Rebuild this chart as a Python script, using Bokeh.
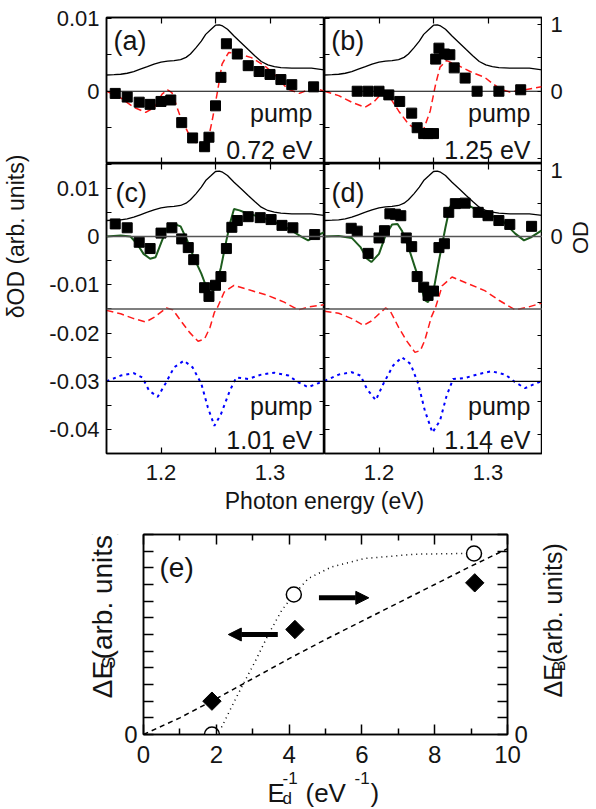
import math
from bokeh.plotting import figure
from bokeh.layouts import row, column
from bokeh.models import (Range1d, LinearAxis, FixedTicker, CustomJSTickFormatter,
                          CustomLabelingPolicy, Span, Label, Arrow, NormalHead)
from bokeh.embed import file_html
from bokeh.resources import INLINE
from bokeh.core.properties import value

FONT = "Liberation Sans"
TXT = "#141414"
RED = "#ff1a1a"
GREEN = "#1d5c1d"
BLUE = "#0000ff"
SHIFT = 0.3   # em correction for text baseline placement

# ---------------- data: absorption spectrum (OD, right axis) ----------------
od_energy = [1.150, 1.157, 1.163, 1.169, 1.175, 1.181, 1.1875, 1.1936, 1.200, 1.206, 1.212,
             1.218, 1.223, 1.227, 1.232, 1.237, 1.241, 1.246, 1.250, 1.2535, 1.2565, 1.261,
             1.267, 1.2735, 1.280, 1.286, 1.292, 1.298, 1.304, 1.310, 1.320, 1.329, 1.338, 1.350]
od_value = [0.242, 0.247, 0.253, 0.268, 0.293, 0.329, 0.368, 0.405, 0.435, 0.450, 0.455,
            0.470, 0.505, 0.556, 0.646, 0.747, 0.848, 0.924, 0.985, 0.989, 0.974, 0.924,
            0.823, 0.722, 0.621, 0.530, 0.444, 0.394, 0.368, 0.353, 0.344, 0.344, 0.344, 0.318]

# ---------------- panel (a): pump 0.72 eV ----------------
a_exp_energy = [1.158, 1.169, 1.180, 1.190, 1.200, 1.209, 1.219, 1.229, 1.240, 1.244, 1.250,
                1.255, 1.260, 1.270, 1.280, 1.290, 1.300, 1.310, 1.320, 1.340]
a_exp_dod = [-0.0003, -0.0008, -0.0015, -0.0018, -0.0014, -0.0012, -0.0043, -0.0064, -0.0076,
             -0.0063, -0.0020, 0.0019, 0.0065, 0.0051, 0.0035, 0.0027, 0.0023, 0.0016, 0.0009, 0.0006]
a_fit_energy = [1.150, 1.163, 1.175, 1.186, 1.194, 1.201, 1.206, 1.210, 1.218, 1.227, 1.237,
                1.243, 1.247, 1.252, 1.256, 1.262, 1.270, 1.283, 1.295, 1.307, 1.316, 1.327,
                1.335, 1.344, 1.350]
a_fit_dod = [0.0, -0.0009, -0.0022, -0.0029, -0.0022, -0.0004, 0.0002, -0.0002, -0.0036, -0.0063,
             -0.0077, -0.0068, -0.0040, 0.0001, 0.0037, 0.0053, 0.0052, 0.0046, 0.0035, 0.0019,
             0.0003, -0.0003, 0.0002, 0.0003, 0.0]

# ---------------- panel (b): pump 1.25 eV ----------------
b_exp_energy = [1.180, 1.190, 1.200, 1.209, 1.219, 1.230, 1.235, 1.241, 1.245, 1.250, 1.252,
                1.255, 1.260, 1.265, 1.269, 1.279, 1.290, 1.310, 1.330]
b_exp_dod = [0.0, 0.0, 0.0, -0.0005, -0.0014, -0.0030, -0.0050, -0.0058, -0.0058, -0.0058, 0.0044,
             0.0059, 0.0051, 0.0050, 0.0032, 0.0018, 0.0, 0.0, 0.0002]
b_fit_energy = [1.150, 1.163, 1.175, 1.187, 1.195, 1.203, 1.209, 1.218, 1.227, 1.236, 1.241,
                1.247, 1.252, 1.256, 1.262, 1.273, 1.285, 1.297, 1.303, 1.311, 1.320, 1.334, 1.349]
b_fit_dod = [0.0, -0.0006, -0.0015, -0.0022, -0.0015, -0.0002, -0.0006, -0.0027, -0.0045, -0.0054,
             -0.0052, -0.0027, 0.0010, 0.0033, 0.0042, 0.0035, 0.0026, 0.0019, 0.0012, 0.0003,
             -0.0001, 0.0002, 0.0006]

# ---------------- panel (c): pump 1.01 eV ----------------
c_exp_energy = [1.158, 1.169, 1.180, 1.190, 1.200, 1.210, 1.219, 1.225, 1.230, 1.240, 1.244,
                1.250, 1.255, 1.260, 1.265, 1.270, 1.280, 1.291, 1.301, 1.311, 1.321, 1.341]
c_exp_dod = [0.0026, 0.0018, -0.0012, -0.0025, 0.0007, 0.0018, -0.0005, -0.0023, -0.0048, -0.0106,
             -0.0124, -0.0101, -0.0083, -0.0025, 0.0019, 0.0033, 0.0041, 0.0039, 0.0035, 0.0023,
             0.0018, 0.0004]
c_sum_energy = [1.150, 1.163, 1.172, 1.178, 1.184, 1.190, 1.195, 1.201, 1.206, 1.212, 1.218,
                1.224, 1.230, 1.237, 1.241, 1.246, 1.250, 1.255, 1.260, 1.264, 1.267, 1.272,
                1.280, 1.292, 1.304, 1.317, 1.329, 1.335, 1.343, 1.350]
c_sum_dod = [0.0, 0.0002, 0.0, -0.0015, -0.0036, -0.0046, -0.0043, -0.0008, 0.0019, 0.0026, 0.0021,
             -0.0008, -0.0043, -0.0077, -0.0101, -0.0119, -0.0105, -0.0064, -0.0008, 0.0033,
             0.0057, 0.0054, 0.0047, 0.0040, 0.0030, 0.0016, -0.0001, -0.0008, 0.0002, 0.0009]
c_shift_energy = [1.150, 1.163, 1.175, 1.186, 1.194, 1.205, 1.211, 1.218, 1.226, 1.234, 1.240,
                  1.245, 1.249, 1.252, 1.258, 1.267, 1.283, 1.298, 1.313, 1.326, 1.335, 1.350]
c_shift_dod = [-0.0003, -0.0010, -0.0020, -0.0027, -0.0017, 0.0002, -0.0002, -0.0024, -0.0048,
               -0.0067, -0.0062, -0.0038, -0.0007, 0.0004, 0.0035, 0.0049, 0.0038, 0.0028,
               0.0014, -0.0002, 0.0004, 0.0009]
c_broad_energy = [1.150, 1.163, 1.175, 1.183, 1.189, 1.197, 1.204, 1.212, 1.221, 1.229, 1.237,
                  1.243, 1.249, 1.255, 1.263, 1.269, 1.280, 1.292, 1.304, 1.317, 1.326, 1.335,
                  1.344, 1.350]
c_broad_dod = [0.0, 0.0012, 0.0017, 0.0008, -0.0019, -0.0032, -0.0005, 0.0029, 0.0043, 0.0029,
               -0.0005, -0.0054, -0.0092, -0.0068, -0.0020, 0.0008, 0.0005, 0.0014, 0.0018,
               0.0012, -0.0002, -0.0012, -0.0004, 0.0001]

# ---------------- panel (d): pump 1.14 eV ----------------
d_exp_energy = [1.1745, 1.180, 1.190, 1.200, 1.205, 1.210, 1.215, 1.220, 1.225, 1.230, 1.235,
                1.241, 1.245, 1.250, 1.255, 1.260, 1.264, 1.270, 1.279, 1.291, 1.300, 1.310,
                1.320, 1.340]
d_exp_dod = [0.0017, 0.0011, -0.0035, -0.0003, 0.0012, 0.0047, 0.0046, 0.0043, -0.0003, -0.0021,
             -0.0083, -0.0105, -0.0122, -0.0113, -0.0023, -0.0015, 0.0050, 0.0068, 0.0069,
             0.0050, 0.0043, 0.0033, 0.0025, 0.0021]
d_sum_energy = [1.150, 1.163, 1.175, 1.183, 1.189, 1.193, 1.200, 1.206, 1.212, 1.217, 1.221,
                1.227, 1.233, 1.238, 1.242, 1.245, 1.250, 1.255, 1.261, 1.265, 1.270, 1.279,
                1.288, 1.300, 1.313, 1.325, 1.333, 1.340, 1.349]
d_sum_dod = [0.0, 0.0001, -0.0003, -0.0022, -0.0046, -0.0053, -0.0036, 0.0002, 0.0025, 0.0026,
             0.0012, -0.0022, -0.0064, -0.0098, -0.0132, -0.0136, -0.0112, -0.0050, 0.0019,
             0.0061, 0.0076, 0.0068, 0.0057, 0.0047, 0.0033, 0.0006, -0.0008, -0.0001, 0.0012]
d_shift_energy = [1.150, 1.163, 1.175, 1.186, 1.193, 1.206, 1.210, 1.218, 1.225, 1.233, 1.238,
                  1.242, 1.248, 1.252, 1.258, 1.267, 1.282, 1.297, 1.310, 1.325, 1.337, 1.349]
d_shift_dod = [-0.0005, -0.0009, -0.0020, -0.0034, -0.0025, 0.0002, -0.0003, -0.0038, -0.0065,
               -0.0090, -0.0086, -0.0065, -0.0017, 0.0004, 0.0048, 0.0066, 0.0052, 0.0038,
               0.0018, -0.0002, 0.0004, 0.0012]
d_broad_energy = [1.150, 1.163, 1.175, 1.183, 1.189, 1.197, 1.204, 1.213, 1.221, 1.229, 1.236,
                  1.242, 1.249, 1.256, 1.262, 1.268, 1.279, 1.291, 1.303, 1.316, 1.325, 1.334,
                  1.343, 1.349]
d_broad_dod = [0.0001, 0.0014, 0.0019, 0.0012, -0.0016, -0.0039, -0.0005, 0.0033, 0.0050, 0.0036,
               -0.0005, -0.0060, -0.0106, -0.0081, -0.0030, 0.0005, 0.0007, 0.0015, 0.0021,
               0.0014, -0.0002, -0.0014, -0.0005, 0.0]

SHIFT_OFFSET = -0.015   # baseline of red dashed component in (c),(d)
BROAD_OFFSET = -0.030   # baseline of blue dotted component in (c),(d)

pump_labels = ["0.72 eV", "1.25 eV", "1.01 eV", "1.14 eV"]
panel_tags = ["(a)", "(b)", "(c)", "(d)"]

# ---------------- panel (e) ----------------
e_inv_ed_s = [1.88, 4.16, 9.10]
e_delta_es = [2.0, 6.3, 9.1]
e_inv_ed_b = [1.88, 4.13, 9.08]
e_delta_eb = [0.0, 8.4, 10.86]
e_dash_x = [0, 1, 2, 3, 4, 5, 6, 7, 8, 9, 10]
e_dash_y = [0.0, 1.0, 2.15, 3.35, 4.55, 5.7, 6.8, 7.9, 9.0, 10.1, 11.15]
e_dot_x = [1.95, 2.15, 2.42, 2.70, 3.06, 3.43, 3.80, 4.13, 4.53, 5.17, 6.08, 7.46, 8.83, 9.08]
e_dot_y = [0.0, 0.46, 1.66, 2.86, 4.35, 6.0, 7.46, 8.4, 9.36, 10.06, 10.56, 10.82, 10.86, 10.86]

E_LIM = (1.15, 1.35)
TOP_DOD = (-0.0099, 0.0101)
TOP_OD = (-1.079, 1.10)
BOT_DOD = (-0.04493, 0.01511)
BOT_OD = (-3.288, 1.106)

# frame geometry (page px)
TOP_FRAME = (17, 146)
BOT_FRAME = (163, 290)

FMT = CustomJSTickFormatter(code="""
if (Math.abs(tick) < 1e-12) { return "0"; }
return String(Number(tick.toPrecision(6)));
""")


def fmt_tick(v):
    return "0" if abs(v) < 1e-12 else f"{v:g}"


def style_axis(ax, ticks, minor, tick_in, minor_in, show, size, standoff, lw=1.2):
    ax.ticker = FixedTicker(ticks=ticks, minor_ticks=minor)
    ax.major_tick_in = tick_in
    ax.major_tick_out = 0
    ax.minor_tick_in = minor_in
    ax.minor_tick_out = 0
    ax.axis_line_color = "black"
    ax.axis_line_width = 1.5
    ax.major_tick_line_color = "black"
    ax.minor_tick_line_color = "black"
    ax.major_tick_line_width = lw
    ax.minor_tick_line_width = lw
    ax.axis_label = None
    ax.formatter = FMT
    if show:
        ax.major_label_text_font = FONT
        ax.major_label_text_font_size = f"{size}px"
        ax.major_label_text_color = TXT
        ax.major_label_standoff = standoff
    else:
        ax.major_label_text_font_size = "0px"
        ax.major_label_standoff = 0
        ax.major_label_policy = CustomLabelingPolicy(code="return []")


def make_panel(dod_lim, od_lim, frame_h, bl, br, bt, bb, lab_left, lab_bottom,
               dod_major, dod_minor, od_major, od_minor):
    p = figure(frame_width=218, frame_height=frame_h,
               x_range=Range1d(*E_LIM), y_range=Range1d(*dod_lim),
               output_backend="svg", toolbar_location=None, title=None,
               min_border_left=bl, min_border_right=br, min_border_top=bt, min_border_bottom=bb,
               background_fill_color="white", border_fill_color="white",
               outline_line_color="black", outline_line_width=1.5)
    p.extra_y_ranges = {"od": Range1d(*od_lim)}
    p.grid.visible = False
    style_axis(p.xaxis[0], [1.2, 1.3], [1.25], 6, 6, lab_bottom, 22, 11)
    top = LinearAxis()
    style_axis(top, [1.2, 1.3], [1.25], 6, 6, False, 22, 0)
    p.add_layout(top, "above")
    style_axis(p.yaxis[0], dod_major, dod_minor, 5, 5, lab_left, 22, 7)
    right = LinearAxis(y_range_name="od")
    style_axis(right, od_major, od_minor, 5, 5, False, 22, 0)
    p.add_layout(right, "right")
    p.line(od_energy, od_value, y_range_name="od", line_color="black", line_width=1.3)
    return p


def page_to_data(py, lim, frame_top, frame_h):
    """convert a page pixel row inside a frame to a data value of that frame"""
    lo, hi = lim
    return lo + (frame_top + frame_h - py) * (hi - lo) / frame_h


def data_to_page(v, lim, frame_top, frame_h):
    lo, hi = lim
    return frame_top + (hi - v) * frame_h / (hi - lo)


def add_texts(p, lim, frame_top, frame_h, tag, tag_x, tag_py, pump_x, pump_py1, pump_py2,
              energy_text):
    def lab(x, py, text, size, align):
        y = page_to_data(py - SHIFT * size, lim, frame_top, frame_h)
        p.add_layout(Label(x=x, y=y, text=text, text_font=FONT, text_font_size=f"{size}px",
                           text_color=TXT, text_align=align, text_baseline="alphabetic"))
    lab(tag_x, tag_py, tag, 27, "left")
    lab(pump_x, pump_py1, "pump", 25, "right")
    lab(pump_x, pump_py2, energy_text, 25, "right")


top_dod_major = [0.01, 0.0]
top_dod_minor = [0.005, -0.005]
top_od_major = [1.0, 0.0]
top_od_minor = [0.5, -0.5, -1.0]
bot_dod_major = [0.01, 0.0, -0.01, -0.02, -0.03, -0.04]
bot_dod_minor = [0.015, 0.005, -0.005, -0.015, -0.025, -0.035, -0.045]
bot_od_major = [1.0, 0.0]
bot_od_minor = [0.5, -0.5, -1.0, -1.5, -2.0, -2.5, -3.0]

pa = make_panel(TOP_DOD, TOP_OD, 146, 62, 0, 17, 0, True, False,
                top_dod_major, top_dod_minor, top_od_major, top_od_minor)
pb = make_panel(TOP_DOD, TOP_OD, 146, 0, 0, 17, 0, False, False,
                top_dod_major, top_dod_minor, top_od_major, top_od_minor)
pc = make_panel(BOT_DOD, BOT_OD, 290, 62, 0, 0, 36, True, True,
                bot_dod_major, bot_dod_minor, bot_od_major, bot_od_minor)
pd = make_panel(BOT_DOD, BOT_OD, 290, 0, 0, 0, 36, False, True,
                bot_dod_major, bot_dod_minor, bot_od_major, bot_od_minor)

for p in (pa, pb):
    p.add_layout(Span(location=0.0, dimension="width", line_color="black", line_width=1.2))

for p in (pc, pd):
    p.add_layout(Span(location=0.0, dimension="width", line_color="#555555", line_width=1.5))
    p.add_layout(Span(location=SHIFT_OFFSET, dimension="width", line_color="#555555",
                      line_width=1.5))
    p.add_layout(Span(location=BROAD_OFFSET, dimension="width", line_color="black",
                      line_width=1.2))

pa.line(a_fit_energy, a_fit_dod, line_color=RED, line_width=1.5, line_dash="7 4")
pa.scatter(a_exp_energy, a_exp_dod, marker="square", size=10, color="black")
pb.line(b_fit_energy, b_fit_dod, line_color=RED, line_width=1.5, line_dash="7 4")
pb.scatter(b_exp_energy, b_exp_dod, marker="square", size=10, color="black")

for p, se, sd, be, bd, sue, sud, ee, ed in (
        (pc, c_shift_energy, c_shift_dod, c_broad_energy, c_broad_dod, c_sum_energy, c_sum_dod,
         c_exp_energy, c_exp_dod),
        (pd, d_shift_energy, d_shift_dod, d_broad_energy, d_broad_dod, d_sum_energy, d_sum_dod,
         d_exp_energy, d_exp_dod)):
    p.line(se, [v + SHIFT_OFFSET for v in sd], line_color=RED, line_width=1.5, line_dash="7 4")
    p.line(be, [v + BROAD_OFFSET for v in bd], line_color=BLUE, line_width=2, line_dash="3 4")
    p.line(sue, sud, line_color=GREEN, line_width=2)
    p.scatter(ee, ed, marker="square", size=10, color="black")

add_texts(pa, TOP_DOD, *TOP_FRAME, panel_tags[0], 1.1564, 49, 1.339, 120, 156.7, pump_labels[0])
add_texts(pb, TOP_DOD, *TOP_FRAME, panel_tags[1], 1.1561, 49, 1.339, 120, 156.7, pump_labels[1])
add_texts(pc, BOT_DOD, *BOT_FRAME, panel_tags[2], 1.1583, 201, 1.339, 413, 446.7, pump_labels[2])
add_texts(pd, BOT_DOD, *BOT_FRAME, panel_tags[3], 1.1564, 201, 1.339, 413, 446.7, pump_labels[3])

# ---------------- panel (e) ----------------
E_X_LIM = (0, 10)
E_Y_LIM = (0, 12)
pe = figure(frame_width=364, frame_height=200, x_range=Range1d(*E_X_LIM),
            y_range=Range1d(*E_Y_LIM),
            output_backend="svg", toolbar_location=None, title=None,
            min_border_left=21, min_border_right=26, min_border_top=19, min_border_bottom=35,
            background_fill_color="white", border_fill_color="white",
            outline_line_color="black", outline_line_width=1.5)
pe.grid.visible = False
style_axis(pe.xaxis[0], [0, 2, 4, 6, 8, 10], [1, 3, 5, 7, 9], 10, 6, True, 24, 11, 1.5)
e_top = LinearAxis()
style_axis(e_top, [0, 2, 4, 6, 8, 10], [1, 3, 5, 7, 9], 10, 6, False, 24, 0, 1.5)
pe.add_layout(e_top, "above")
style_axis(pe.yaxis[0], [0], list(range(1, 13)), 10, 10, True, 24, 6, 1.5)
e_right = LinearAxis()
style_axis(e_right, [0], list(range(1, 13)), 10, 10, True, 24, 7, 1.5)
pe.add_layout(e_right, "right")

pe.line(e_dash_x, e_dash_y, line_color="black", line_width=1.5, line_dash="5 4")
pe.line(e_dot_x, e_dot_y, line_color="black", line_width=1.5, line_dash="1 4")
pe.scatter(e_inv_ed_s, e_delta_es, marker="square", angle=math.pi / 4, size=13, color="black")
pe.scatter(e_inv_ed_b, e_delta_eb, marker="circle", size=15, fill_color="white",
           line_color="black", line_width=1.5)
pe.add_layout(Arrow(end=NormalHead(size=13, fill_color="black", line_color="black"),
                    x_start=3.69, y_start=6.0, x_end=2.33, y_end=6.0,
                    line_color="black", line_width=5))
pe.add_layout(Arrow(end=NormalHead(size=13, fill_color="black", line_color="black"),
                    x_start=4.82, y_start=8.2, x_end=6.19, y_end=8.2,
                    line_color="black", line_width=5))
pe.add_layout(Label(x=0.44, y=page_to_data(575 - SHIFT * 28, E_Y_LIM, 534, 200), text="(e)",
                    text_font=FONT, text_font_size="28px", text_color=TXT, text_align="left",
                    text_baseline="alphabetic"))


# ---------------- label canvases (page-pixel coordinates) ----------------
def label_canvas(w, h, left, top):
    f = figure(width=w, height=h, x_range=Range1d(left, left + w),
               y_range=Range1d(-(top + h), -top), output_backend="svg",
               toolbar_location=None, title=None, x_axis_location=None, y_axis_location=None,
               min_border=0, outline_line_color=None,
               background_fill_color="white", border_fill_color="white")
    f.grid.visible = False
    return f


def put(f, x, y, text, size, align="left", baseline="alphabetic", rotated=False, shift=SHIFT):
    # compensate the renderer's baseline offset along the text's "down" direction
    if rotated:
        x = x - shift * size
        angle = math.pi / 2
    else:
        y = y - shift * size
        angle = 0.0
    f.text(x=[x], y=[-y], text=[text], angle=angle, text_font=value(FONT),
           text_font_size=value(f"{size}px"), text_color=TXT, text_align=align,
           text_baseline=baseline)


labL = label_canvas(44, 489, 0, 0)
put(labL, 22, 236, "δOD (arb. units)", 23, "center", "middle", rotated=True)

# right column: OD tick labels of (b) and (d) plus the OD axis title
labR = label_canvas(54, 489, 542, 0)
for v in top_od_major:
    put(labR, 550, data_to_page(v, TOP_OD, *TOP_FRAME), fmt_tick(v), 22, "left", "middle",
        shift=0.0)
for v in bot_od_major:
    put(labR, 550, data_to_page(v, BOT_OD, *BOT_FRAME), fmt_tick(v), 22, "left", "middle",
        shift=0.0)
put(labR, 587, 237, "OD", 22, "center", "middle", rotated=True)

pxlab = label_canvas(596, 26, 0, 489)
put(pxlab, 324, 507, "Photon energy (eV)", 23, "center")

# rotated composed labels for (e): text runs upward, baseline at given x
labEL = label_canvas(121, 254, 0, 515)
put(labEL, 110, 723, "ΔE", 28, rotated=True)
put(labEL, 114, 723 - 37.4, "S", 18, rotated=True)
put(labEL, 110, 723 - 37.4 - 12.0, " (arb. units)", 28, rotated=True)

labER = label_canvas(48, 254, 532, 515)
put(labER, 559, 722, "ΔE", 25, rotated=True)
put(labER, 563, 722 - 33.4, "B", 16, rotated=True)
put(labER, 559, 722 - 33.4 - 10.7, " (arb. units)", 25, rotated=True)

exlab = label_canvas(596, 38, 0, 769)
put(exlab, 267, 800, "E", 26)
put(exlab, 282, 803, "d", 17)
put(exlab, 282, 783, "-1", 17)
put(exlab, 305, 800, " (eV", 26)
put(exlab, 354, 783, "-1", 17)
put(exlab, 370, 800, ")", 26)

layout = column(
    row(labL, column(row(pa, pb), row(pc, pd)), labR),
    pxlab,
    row(labEL, pe, labER),
    exlab,
)

open("out.html", "w").write(file_html(layout, INLINE))
